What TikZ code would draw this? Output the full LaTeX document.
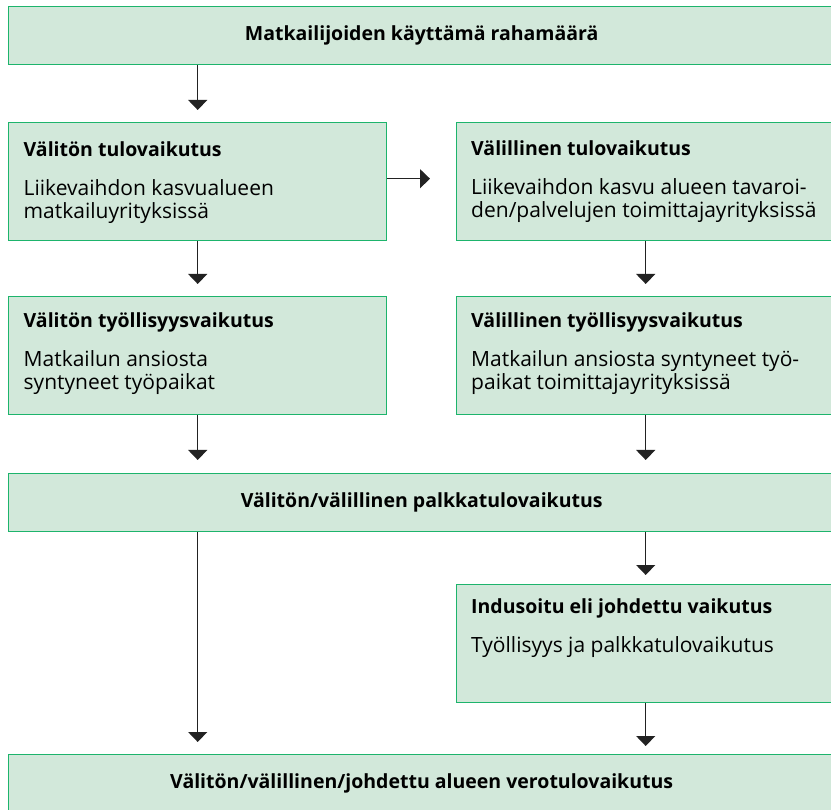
\documentclass[tikz,border=0pt]{standalone}
\usepackage{fontspec}
\setmainfont{Open Sans}
\usetikzlibrary{arrows.meta}
\definecolor{boxfill}{HTML}{D2E8DA}
\definecolor{boxline}{HTML}{1DB46C}
\definecolor{arrowgray}{HTML}{222222}
\newcommand{\headfont}{\fontsize{19.5}{23.5}\selectfont\bfseries}

\begin{document}
\begin{tikzpicture}[x=1pt,y=-1pt,>={Triangle[width=19pt,length=10pt]},
  box/.style={draw=boxline,fill=boxfill,line width=1.4pt,inner sep=0pt,
    anchor=north west,minimum width=378pt,minimum height=118pt},
  wide box/.style={box,minimum width=826pt,minimum height=58pt},
  txt/.style={anchor=base west,align=left,inner sep=0pt,
    font=\fontsize{21}{23.5}\selectfont},
  head/.style={inner sep=0pt,font=\headfont}]

  \useasboundingbox (0,0) rectangle (831,810);

  \node[wide box] (1) at (8,6) {};     % spending
  \node[box] (2) at (8,122) {};        % direct income
  \node[box] (3) at (456,122) {};      % indirect income
  \node[box] (4) at (8,296) {};        % direct employment
  \node[box] (5) at (456,296) {};      % indirect employment
  \node[wide box] (6) at (8,473) {};   % wages
  \node[box] (7) at (456,584) {};      % induced
  \node[wide box] (8) at (8,754) {};   % taxes

  % text nodes hang from the baseline of their last line
  \node[head] (1t) at (1) {Matkailijoiden käyttämä rahamäärä};
  \node[txt] (2t) at ([xshift=15.5pt,yshift=-97pt]2.north west)
    {{\headfont Välitön tulovaikutus}\\[15pt]Liikevaihdon kasvualueen\\matkailuyrityksissä};
  \node[txt] (3t) at ([xshift=15pt,yshift=-96pt]3.north west)
    {{\headfont Välillinen tulovaikutus}\\[15pt]Liikevaihdon kasvu alueen tavaroi-\\den/palvelujen toimittajayrityksissä};
  \node[txt] (4t) at ([xshift=15.5pt,yshift=-94pt]4.north west)
    {{\headfont Välitön työllisyysvaikutus}\\[15pt]Matkailun ansiosta\\syntyneet työpaikat};
  \node[txt] (5t) at ([xshift=15pt,yshift=-94pt]5.north west)
    {{\headfont Välillinen työllisyysvaikutus}\\[15pt]Matkailun ansiosta syntyneet työ-\\paikat toimittajayrityksissä};
  \node[head] (6t) at (6) {Välitön/välillinen palkkatulovaikutus};
  \node[txt] (7t) at ([xshift=15pt,yshift=-68pt]7.north west)
    {{\headfont Indusoitu eli johdettu vaikutus}\\[15pt]Työllisyys ja palkkatulovaikutus};
  \node[head] (8t) at (8) {Välitön/välillinen/johdettu alueen verotulovaikutus};

  \path[->,line width=1.3pt,every edge/.append style={draw=arrowgray}]
    (1.south -| 2) edge [shorten >=12pt] (2)                 % to direct income
    ([yshift=3pt]2.east) edge [shorten >=26pt] ([yshift=3pt]3.west)
    (2) edge [shorten >=12pt] (4)
    (3) edge [shorten >=12pt] (5)
    (4) edge [shorten >=13pt] (4 |- 6.north)
    (5) edge [shorten >=13pt] (5 |- 6.north)
    (6.south -| 4) edge [shorten >=12pt] (4 |- 8.north)      % straight to taxes
    (6.south -| 7) edge [shorten >=9pt] (7)
    (7) edge [shorten >=8pt] (7 |- 8.north);
\end{tikzpicture}
\end{document}
